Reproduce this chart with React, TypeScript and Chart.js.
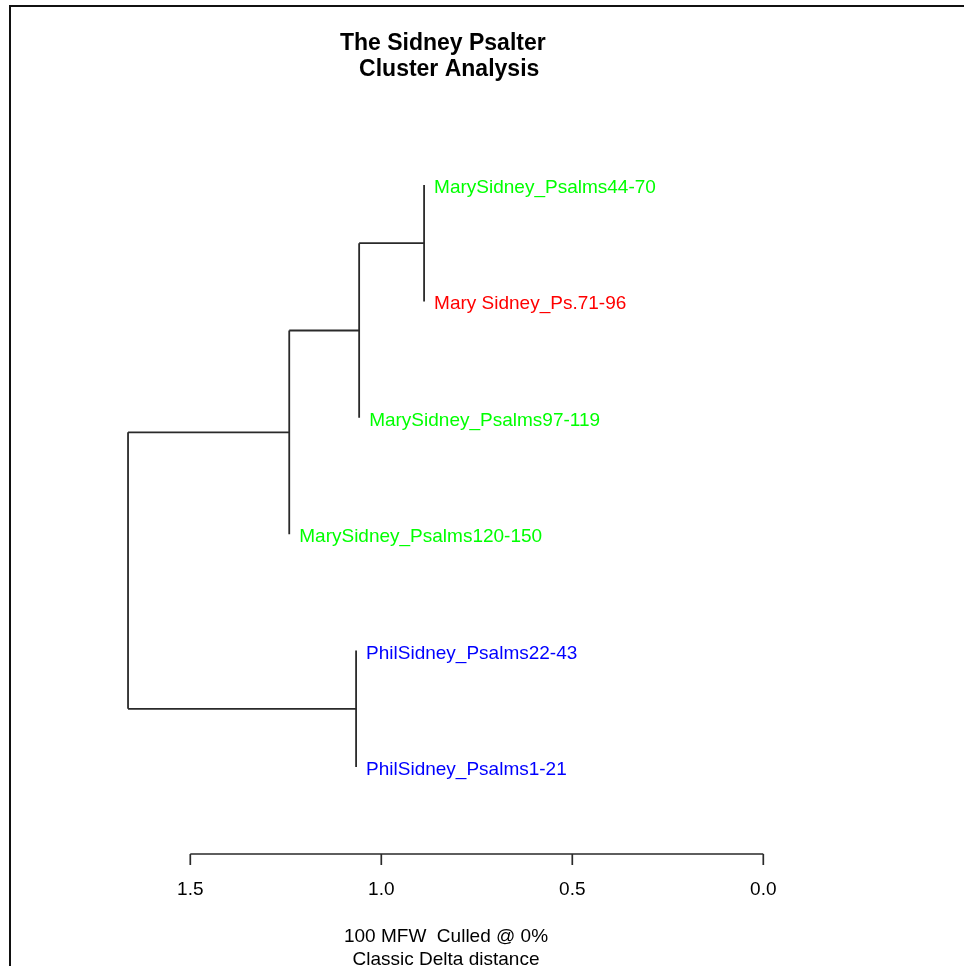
import React, { useEffect, useRef } from "react";
import { Chart, registerables } from "chart.js";

Chart.register(...registerables);

// ---- data ----
const leafLabels = [
  "MarySidney_Psalms44-70",
  "Mary Sidney_Ps.71-96",
  "MarySidney_Psalms97-119",
  "MarySidney_Psalms120-150",
  "PhilSidney_Psalms22-43",
  "PhilSidney_Psalms1-21",
];
const leafColors = ["#00FF00", "#FF0000", "#00FF00", "#00FF00", "#0000FF", "#0000FF"];
// hclust-style merge table: negative = leaf (1-based), positive = earlier merge
const mergePairs: number[][] = [
  [-1, -2],
  [1, -3],
  [2, -4],
  [-5, -6],
  [3, 4],
];
const mergeHeights = [0.888, 1.058, 1.241, 1.066, 1.663];
const axisTicks = [1.5, 1.0, 0.5, 0.0];
const axisTickLabels = ["1.5", "1.0", "0.5", "0.0"];
const titleLines = ["The Sidney Psalter ", " Cluster Analysis"];
const subtitleLines = ["100 MFW  Culled @ 0%", "Classic Delta distance"];

const FONT = "'Liberation Sans', Arial, Helvetica, sans-serif";

function buildTree() {
  const nodeY: number[] = [];
  const leafX: number[] = new Array(leafLabels.length).fill(0);
  const segments: { x: number; y: number }[][] = [];
  mergePairs.forEach((pair, i) => {
    const h = mergeHeights[i];
    const kids = pair.map((c) => {
      if (c < 0) {
        leafX[-c - 1] = h;
        return { x: h, y: -c };
      }
      const x = mergeHeights[c - 1];
      const y = nodeY[c - 1];
      segments.push([{ x, y }, { x: h, y }]);
      return { x, y };
    });
    segments.push([{ x: h, y: kids[0].y }, { x: h, y: kids[1].y }]);
    nodeY[i] = (kids[0].y + kids[1].y) / 2;
  });
  return { segments, leafX };
}

export default function App() {
  const ref = useRef<HTMLCanvasElement | null>(null);

  useEffect(() => {
    if (!ref.current) return;
    const { segments, leafX } = buildTree();
    const lineColor = "#2a2a2a";

    const overlay = {
      id: "dendroOverlay",
      afterDraw(chart: any) {
        const ctx = chart.ctx as CanvasRenderingContext2D;
        const xs = chart.scales.x;
        const ys = chart.scales.y;
        ctx.save();
        // frame
        ctx.strokeStyle = "#111";
        ctx.lineWidth = 2;
        ctx.strokeRect(10, 6, 1000, 1000);

        // title
        ctx.fillStyle = "#000";
        ctx.textAlign = "center";
        ctx.textBaseline = "alphabetic";
        ctx.font = `bold 23px ${FONT}`;
        ctx.fillText(titleLines[0], 446, 49.5);
        ctx.fillText(titleLines[1], 446, 75.5);

        // leaf labels
        ctx.font = `19px ${FONT}`;
        ctx.textAlign = "left";
        leafLabels.forEach((lab, i) => {
          const px = xs.getPixelForValue(leafX[i]);
          const py = ys.getPixelForValue(i + 1);
          ctx.fillStyle = leafColors[i];
          ctx.fillText(lab, px + 10, py + 8);
        });

        // axis
        const axisY = 854;
        const x0 = xs.getPixelForValue(axisTicks[0]);
        const x1 = xs.getPixelForValue(axisTicks[axisTicks.length - 1]);
        ctx.strokeStyle = lineColor;
        ctx.lineWidth = 1.7;
        ctx.beginPath();
        ctx.moveTo(x0, axisY);
        ctx.lineTo(x1, axisY);
        axisTicks.forEach((t) => {
          const px = xs.getPixelForValue(t);
          ctx.moveTo(px, axisY);
          ctx.lineTo(px, axisY + 11);
        });
        ctx.stroke();
        ctx.fillStyle = "#000";
        ctx.textAlign = "center";
        axisTicks.forEach((t, i) => {
          const px = xs.getPixelForValue(t);
          ctx.fillText(axisTickLabels[i], px, 895);
        });

        // subtitle
        ctx.fillText(subtitleLines[0], 446, 942);
        ctx.fillText(subtitleLines[1], 446, 964.5);
        ctx.restore();
      },
    };

    const chart = new Chart(ref.current, {
      type: "scatter",
      data: {
        datasets: segments.map((seg) => ({
          data: seg,
          showLine: true,
          borderColor: lineColor,
          borderWidth: 1.8,
          pointRadius: 0,
          pointHoverRadius: 0,
          clip: false as any,
        })),
      },
      options: {
        responsive: false,
        animation: false,
        devicePixelRatio: 1,
        layout: {
          autoPadding: false,
          padding: { left: 190.3, right: 964 - 763.3, top: 185, bottom: 966 - 767 },
        },
        scales: {
          x: { type: "linear", min: 0, max: 1.5, reverse: true, display: false },
          y: { type: "linear", min: 1, max: 6, reverse: true, display: false },
        },
        plugins: {
          legend: { display: false },
          tooltip: { enabled: false },
          title: { display: false },
        },
      },
      plugins: [overlay],
    } as any);
    return () => chart.destroy();
  }, []);

  return (
    <div style={{ position: "absolute", left: 0, top: 0, width: 964, height: 966, background: "#fff" }}>
      <canvas ref={ref} width={964} height={966} style={{ display: "block", width: 964, height: 966 }} />
    </div>
  );
}
